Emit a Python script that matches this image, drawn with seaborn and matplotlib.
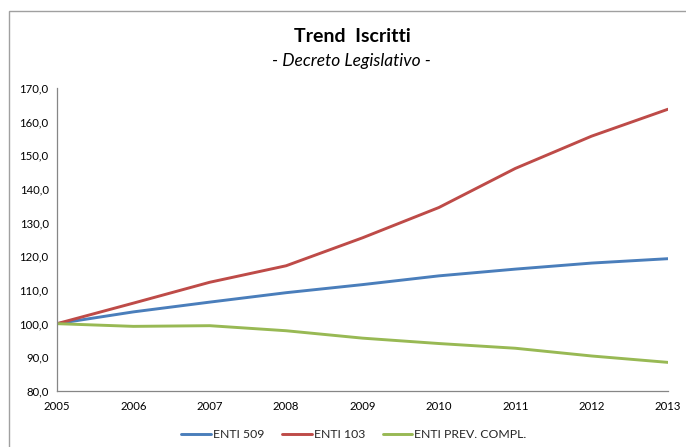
import matplotlib
matplotlib.use("Agg")
import matplotlib.pyplot as plt
import matplotlib.patches as mpatches
from matplotlib.ticker import FuncFormatter, MultipleLocator
import pandas as pd
import seaborn as sns

years = [2005, 2006, 2007, 2008, 2009, 2010, 2011, 2012, 2013]
enti_509 = [100.0, 103.5, 106.4, 109.2, 111.6, 114.2, 116.2, 118.0, 119.3]
enti_103 = [100.0, 106.1, 112.3, 117.2, 125.5, 134.5, 146.1, 155.7, 163.7]
enti_prev = [100.0, 99.2, 99.4, 97.9, 95.7, 94.1, 92.7, 90.4, 88.5]
series_names = ["ENTI 509", "ENTI 103", "ENTI PREV. COMPL."]
series_colors = ["#4A7EBB", "#BE4B48", "#98B954"]

df = pd.DataFrame({
    "anno": years * 3,
    "valore": enti_509 + enti_103 + enti_prev,
    "serie": [series_names[0]] * len(years)
    + [series_names[1]] * len(years)
    + [series_names[2]] * len(years),
})

sns.set_theme(style="white")
plt.rcParams["font.family"] = ["Lato", "DejaVu Sans"]

fig = plt.figure(figsize=(6.86, 4.47), dpi=100)
ax = fig.add_axes([57 / 686, 1 - 391 / 447, (668 - 57) / 686, (391 - 88) / 447])

sns.lineplot(data=df, x="anno", y="valore", hue="serie", hue_order=series_names,
             palette=series_colors, linewidth=2.1, ax=ax, legend=True)

ax.set_xlim(2005, 2013)
ax.set_ylim(80, 170)
ax.yaxis.set_major_locator(MultipleLocator(10))
ax.set_xticks(years)
ax.yaxis.set_major_formatter(FuncFormatter(lambda v, p: f"{v:.1f}".replace(".", ",")))
ax.set_xlabel("")
ax.set_ylabel("")

axis_gray = "#868686"
for side in ["top", "right"]:
    ax.spines[side].set_visible(False)
for side in ["left", "bottom"]:
    ax.spines[side].set_color(axis_gray)
    ax.spines[side].set_linewidth(0.9)
ax.tick_params(axis="both", which="major", direction="out", length=4, width=0.8,
               color=axis_gray, labelsize=8.2, labelcolor="#000000", pad=2)
ax.tick_params(axis="x", pad=3)

handles, labels = ax.get_legend_handles_labels()
ax.legend(handles, labels, ncol=3, frameon=False, loc="center",
          bbox_to_anchor=(354 / 686, 1 - 435 / 447), bbox_transform=fig.transFigure,
          fontsize=8.8, handlelength=2.4, handletextpad=0.15, columnspacing=1.5)

fig.text(352 / 686, 1 - 36 / 447, "Trend  Iscritti", ha="center", va="center",
         fontsize=14, fontweight="bold", color="#000000")
fig.text(351 / 686, 1 - 61 / 447, "- Decreto Legislativo -", ha="center", va="center",
         fontsize=12.5, fontstyle="italic", color="#000000")

# chart-area border
fig.patches.append(mpatches.Rectangle((9 / 686, -0.1), 1.2, 1 - 11 / 447 + 0.1,
                                      transform=fig.transFigure, fill=False,
                                      edgecolor="#A0A0A0", linewidth=1.0))

fig.savefig("out.png", dpi=100)
